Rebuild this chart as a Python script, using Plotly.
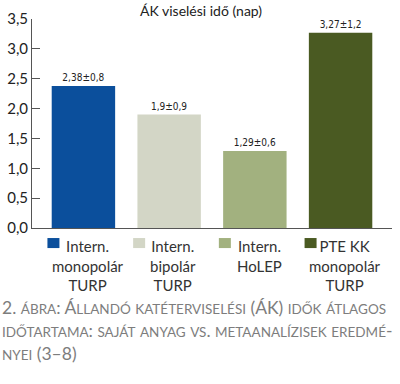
import plotly.graph_objects as go

categories = ["Intern. monopolár TURP", "Intern. bipolár TURP", "Intern. HoLEP", "PTE KK monopolár TURP"]
legend_labels = ["Intern.<br>monopolár<br>TURP", "Intern.<br>bipolár<br>TURP", "Intern.<br>HoLEP", "PTE KK<br>monopolár<br>TURP"]
means = [2.38, 1.9, 1.29, 3.27]
value_labels = ["2,38±0,8", "1,9±0,9", "1,29±0,6", "3,27±1,2"]
colors = ["#0B4F9C", "#D3D6C6", "#A2B17F", "#4A5A22"]
y_ticks = [0, 0.5, 1.0, 1.5, 2.0, 2.5, 3.0, 3.5]

xs = list(range(len(categories)))

fig = go.Figure()
fig.add_trace(go.Bar(
    x=xs, y=means, marker=dict(color=colors, line=dict(width=0)),
    text=value_labels, textposition="outside", cliponaxis=False,
    textfont=dict(family="DejaVu Sans Condensed, Liberation Sans Narrow, sans-serif", size=10, color="#222"),
    width=0.74, showlegend=False, hoverinfo="skip",
))

# legend-like labels under bars
for i, (lab, c) in enumerate(zip(legend_labels, colors)):
    fig.add_annotation(x=i + 0.05, y=0, xref="x", yref="y", yshift=-7, yanchor="top",
                       text=lab, showarrow=False, align="center",
                       font=dict(family="Lato, sans-serif", size=15, color="#333"))
    fig.add_shape(type="rect", xref="x", yref="paper", x0=i - 0.42, x1=i - 0.28,
                  y0=-0.048, y1=-0.096, fillcolor=c, line=dict(width=0))

fig.add_annotation(x=0.47, y=1.0, xref="paper", yref="paper", yanchor="middle", yshift=9,
                   text="ÁK viselési idő (nap)", showarrow=False,
                   font=dict(family="Lato, sans-serif", size=14, color="#222"))

def sc(s):
    # small caps emulation
    res = ""
    small = None
    for ch in s:
        is_small = ch.isalpha() and ch.islower()
        chv = ch.upper() if is_small else ch
        if small is None or small != is_small:
            if small is not None:
                res += "</span>"
            res += "<span style='font-size:%spx'>" % ("13.5" if is_small else "17.5")
            small = is_small
        res += chv
    res += "</span>"
    return res

caption_lines = ["2. ábra: Állandó katéterviselési (ÁK) idők átlagos",
                 "időtartama: saját anyag vs. metaanalízisek eredmé-",
                 "nyei (3–8)"]
caption = "<br>".join(sc(l) for l in caption_lines)
fig.add_annotation(x=0, y=0, xref="paper", yref="paper", xanchor="left", yanchor="top",
                   xshift=-32, yshift=-67, text=caption, showarrow=False, align="left",
                   font=dict(family="Lato, sans-serif", size=17.5, color="#7d7d7d"))

fig.update_layout(
    width=400, height=384,
    margin=dict(l=32, r=8, t=19, b=156, autoexpand=False),
    plot_bgcolor="white", paper_bgcolor="white",
    separators=", ",
    bargap=0.26,
    font=dict(family="Lato, sans-serif", color="#333"),
)
fig.update_xaxes(range=[-0.6, 3.6], showticklabels=False, ticks="", showline=True,
                 linecolor="#555", linewidth=1, showgrid=False, zeroline=False, automargin=False)
fig.update_yaxes(range=[0, 3.5], tickvals=y_ticks, tickformat=".1f", ticks="inside", ticklen=8,
                 tickcolor="#555", showline=True, linecolor="#555", linewidth=1, showgrid=False,
                 zeroline=False, tickfont=dict(size=15, color="#222"), automargin=False)

fig.write_html("out.html", config={"displayModeBar": False},
               post_script="document.body.style.margin='0';document.body.style.padding='0';")
